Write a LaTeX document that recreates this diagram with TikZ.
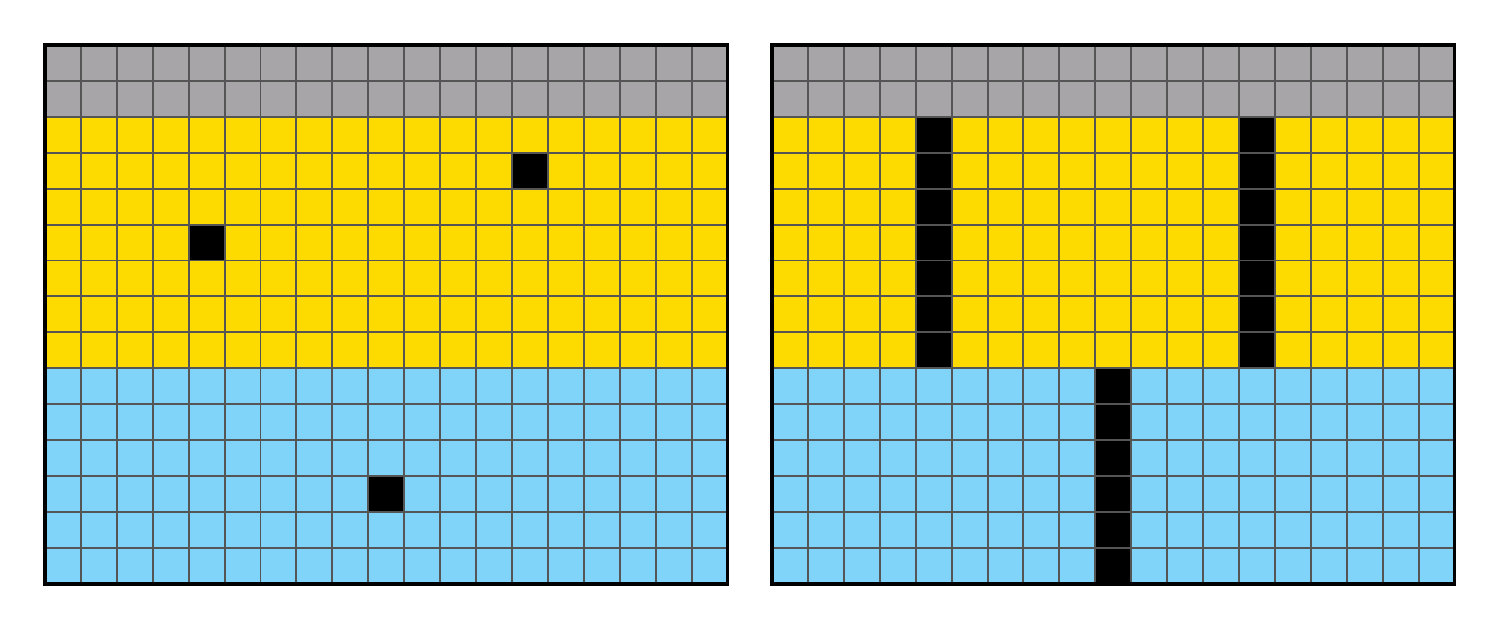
\documentclass[tikz,border=0pt]{standalone}
\definecolor{cgray}{HTML}{A7A5A8}
\definecolor{cyel}{HTML}{FDDB00}
\definecolor{cblue}{HTML}{80D4F9}
\definecolor{cline}{HTML}{555555}
\begin{document}
\begin{tikzpicture}[x=0.02cm,y=-0.02cm,
  gridline/.style={draw=cline,line width=1.1pt},
  border/.style={draw=black,line width=2pt},
  cellfill/.style={fill=#1,draw=none}]
\useasboundingbox (0,0) rectangle (1500,629);
\def\cs{35.92}
% grid origins
\foreach \ox in {45,772}{
  \fill[cgray] (\ox,45) rectangle ++(19*\cs,2*\cs);
  \fill[cyel] (\ox,45+2*\cs) rectangle ++(19*\cs,7*\cs);
  \fill[cblue] (\ox,45+9*\cs) rectangle ++(19*\cs,6*\cs);
}
% left black cells
\foreach \c/\r in {4/5,13/3,9/12}{
  \fill[black] (45+\c*\cs,45+\r*\cs) rectangle ++(\cs,\cs);
}
% right black columns
\foreach \r in {2,...,8}{
  \fill[black] (772+4*\cs,45+\r*\cs) rectangle ++(\cs,\cs);
  \fill[black] (772+13*\cs,45+\r*\cs) rectangle ++(\cs,\cs);
}
\foreach \r in {9,...,14}{
  \fill[black] (772+9*\cs,45+\r*\cs) rectangle ++(\cs,\cs);
}
% grid lines
\foreach \ox in {45,772}{
  \foreach \i in {1,...,18}{
    \draw[gridline] (\ox+\i*\cs,45) -- ++(0,15*\cs);
  }
  \foreach \j in {1,...,14}{
    \draw[gridline] (\ox,45+\j*\cs) -- ++(19*\cs,0);
  }
  \draw[border] (\ox,45) rectangle ++(19*\cs,15*\cs);
}
\end{tikzpicture}
\end{document}
